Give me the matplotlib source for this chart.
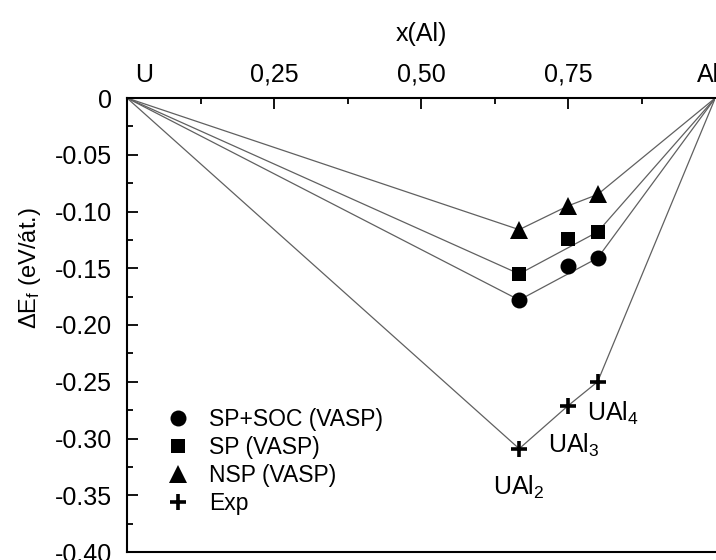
#! /usr/bin/env python3

""" Formation enthalpy of the U-Al compounds, computed and experimental.
"""

import matplotlib
matplotlib.use("Agg")
from matplotlib import pyplot as plt
from matplotlib.lines import Line2D

plt.rcParams["font.family"] = ["Liberation Sans", "DejaVu Sans"]
plt.rcParams["mathtext.default"] = "regular"

# Al fraction of each compound
x_al = [2 / 3, 0.75, 0.80]
compounds = ["UAl$_2$", "UAl$_3$", "UAl$_4$"]

# formation energies in eV/atom
soc = [-0.178, -0.148, -0.141]
sp = [-0.155, -0.124, -0.118]
nsp = [-0.116, -0.095, -0.085]
exp = [-0.309, -0.271, -0.250]

# which compounds sit on the convex hull for each set
soc_hull = [True, False, True]
sp_hull = [True, False, True]
nsp_hull = [True, True, True]
exp_hull = [True, True, True]

y_ticks = [0, -0.05, -0.10, -0.15, -0.20, -0.25, -0.30, -0.35, -0.40]
y_ticklabels = ["0", "-0.05", "-0.10", "-0.15", "-0.20", "-0.25", "-0.30", "-0.35", "-0.40"]
x_ticks = [0.25, 0.50, 0.75]
x_ticklabels = ["0,25", "0,50", "0,75"]

series = [
    ("SP+SOC (VASP)", soc, soc_hull, "o", 11.5),
    ("SP (VASP)", sp, sp_hull, "s", 9.5),
    ("NSP (VASP)", nsp, nsp_hull, "^", 12.5),
    ("Exp", exp, exp_hull, "+", 12),
]


def hull_line(xs, ys, flags):
    """ Pure elements at both ends plus the compounds on the hull. """
    hx = [0.0] + [a for a, f in zip(xs, flags) if f] + [1.0]
    hy = [0.0] + [b for b, f in zip(ys, flags) if f] + [0.0]
    return hx, hy


fig = plt.figure(figsize=(7.16, 5.6), dpi=100)
ax = fig.add_axes([127 / 716, 8 / 560, 1 - 127 / 716 - 0.001, (552 - 98) / 560])

handles = []
for label, ys, flags, marker, ms in series:
    hx, hy = hull_line(x_al, ys, flags)
    ax.plot(hx, hy, "-", color="#606060", lw=0.9, zorder=2)
    mew = 2.6 if marker == "+" else 0
    ax.plot(x_al, ys, marker, color="black", ms=ms, mew=mew, ls="none", zorder=3)
    handles.append(Line2D([], [], marker=marker, color="black", ls="none",
                          ms=ms, mew=mew, label=label))

ax.set_xlim(0, 1)
ax.set_ylim(-0.40, 0)

# the composition axis runs along the top at zero
ax.spines["right"].set_visible(False)
for side in ["top", "left", "bottom"]:
    ax.spines[side].set_linewidth(1.5)
ax.xaxis.tick_top()
ax.xaxis.set_label_position("top")
ax.set_xticks(x_ticks)
ax.set_xticklabels(x_ticklabels)
ax.set_xticks([0.125, 0.375, 0.625, 0.875], minor=True)
ax.set_yticks(y_ticks)
ax.set_yticklabels(y_ticklabels)
ax.set_yticks([-0.025 - 0.05 * i for i in range(8)], minor=True)
ax.tick_params(which="both", direction="in", width=1.3, labelsize=18)
ax.tick_params(which="major", length=8)
ax.tick_params(which="minor", length=4)
ax.tick_params(axis="x", pad=8)
ax.tick_params(axis="y", pad=11)

ax.set_xlabel("x(Al)", fontsize=18, labelpad=16)
ax.set_ylabel("ΔE$_f$ (eV/át.)", fontsize=17)
ax.yaxis.set_label_coords(-0.143, 0.625)

ax.text(0.013, 1.025, "U", transform=ax.transAxes, fontsize=18, ha="left", va="bottom")
ax.text(0.968, 1.025, "Al", transform=ax.transAxes, fontsize=18, ha="left", va="bottom")

# compound labels next to the experimental points
offsets = [(0, -28), (4, -29), (11, -23)]
for xv, yv, name, off in zip(x_al, exp, compounds, offsets):
    ax.annotate(name, (xv, yv), xytext=off, textcoords="offset points",
                fontsize=18, ha="center", va="center")

ax.legend(handles=handles, loc="upper left", frameon=False, fontsize=16.5,
          bbox_to_anchor=(167 / 716, 1 - 408 / 560), bbox_transform=fig.transFigure,
          borderpad=0, borderaxespad=0, handlelength=1.0, handletextpad=0.85,
          labelspacing=0.22)

fig.savefig("out.png", dpi=100)
